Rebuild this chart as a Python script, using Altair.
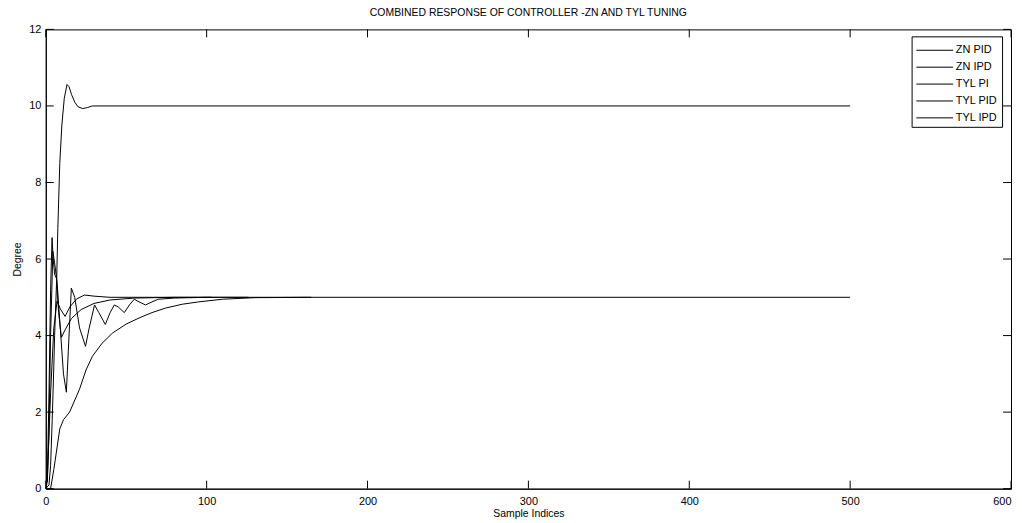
import altair as alt
import pandas as pd

series_names = ["ZN PID", "ZN IPD", "TYL PI", "TYL PID", "TYL IPD"]

zn_pid_x = [0, 2, 3, 4, 5, 5.5, 6.8, 7.5, 8.7, 10, 11.5, 13.2, 14.5, 16, 18, 20, 23, 26, 29, 500]
zn_pid_y = [0, 0.1, 0.6, 1.8, 3.2, 4.0, 5.5, 6.8, 8.5, 9.5, 10.2, 10.56, 10.5, 10.3, 10.1, 9.98, 9.93, 9.96, 10.0, 10.0]

zn_ipd_x = [0, 1, 2, 3, 4.4, 5.5, 7, 9, 11, 12.8, 14, 15.9, 18, 21, 24.7, 27, 30.3, 33, 37, 40, 42.6, 45, 48.8, 52, 55, 58, 62, 66, 70, 80, 100, 165]
zn_ipd_y = [0, 0.2, 1.5, 4.0, 6.2, 5.9, 5.4, 4.2, 3.0, 2.52, 3.6, 5.24, 5.0, 4.2, 3.72, 4.2, 4.8, 4.6, 4.29, 4.6, 4.8, 4.75, 4.6, 4.8, 4.95, 4.88, 4.8, 4.88, 4.95, 4.98, 5.0, 5.0]

tyl_pi_x = [0, 3, 5, 8.7, 11, 14.8, 21, 25, 29, 35, 41.6, 50, 58, 66, 74.5, 85, 95, 110, 130, 160, 500]
tyl_pi_y = [0, 0, 0.5, 1.56, 1.8, 2.0, 2.6, 3.1, 3.46, 3.8, 4.07, 4.3, 4.46, 4.6, 4.72, 4.82, 4.88, 4.95, 4.99, 5.0, 5.0]

tyl_pid_x = [0, 1, 2, 3, 3.9, 4.6, 5.5, 6.6, 8, 9.7, 12, 16, 22, 30, 40, 55, 80, 126]
tyl_pid_y = [0, 0.3, 2.5, 5.2, 6.56, 6.0, 5.6, 5.5, 4.6, 3.95, 4.15, 4.45, 4.68, 4.84, 4.93, 4.98, 5.0, 5.0]

tyl_ipd_x = [0, 1, 3, 5, 7, 9, 12, 15, 19, 24, 30, 40, 103]
tyl_ipd_y = [0, 0.3, 2.5, 4.2, 4.9, 4.7, 4.5, 4.75, 4.95, 5.06, 5.03, 5.0, 5.0]

x_ticks = [0, 100, 200, 300, 400, 500, 600]
y_ticks = [0, 2, 4, 6, 8, 10, 12]

frames = []
for name, xs, ys in [
    ("ZN PID", zn_pid_x, zn_pid_y),
    ("ZN IPD", zn_ipd_x, zn_ipd_y),
    ("TYL PI", tyl_pi_x, tyl_pi_y),
    ("TYL PID", tyl_pid_x, tyl_pid_y),
    ("TYL IPD", tyl_ipd_x, tyl_ipd_y),
]:
    frames.append(pd.DataFrame({"series": name, "x": xs, "y": ys, "i": range(len(xs))}))
df = pd.concat(frames, ignore_index=True)

W, H = 971, 462
FONT = "Liberation Sans"

xscale = alt.Scale(domain=[0, 600], nice=False, zero=False)
yscale = alt.Scale(domain=[0, 12], nice=False, zero=False)

lines = alt.Chart(df).mark_line(strokeWidth=1, clip=True).encode(
    x=alt.X("x:Q", scale=xscale,
            axis=alt.Axis(values=x_ticks, title="Sample Indices", grid=False, ticks=False,
                          labelPadding=7, titlePadding=2, labelFlush=False, domainColor="black",
                          labelAlign=alt.expr("datum.value == 600 ? 'right' : 'center'"))),
    y=alt.Y("y:Q", scale=yscale,
            axis=alt.Axis(values=y_ticks, title="Degree", grid=False, ticks=False,
                          labelPadding=5, titlePadding=6, labelFlush=False, domainColor="black")),
    color=alt.Color("series:N",
                    scale=alt.Scale(domain=series_names, range=["black"] * 5),
                    legend=alt.Legend(title=None, orient="none", legendX=871, legendY=7,
                                      symbolType="M-1,0H3", symbolSize=342, symbolStrokeWidth=1,
                                      labelFontSize=11, labelFont=FONT, labelColor="black",
                                      labelOffset=20.5, rowPadding=2, padding=4,
                                      strokeColor="black", fillColor="white")),
    order="i:Q",
)

xt = pd.DataFrame({"t": x_ticks})
yt = pd.DataFrame({"t": y_ticks})
TL = 8

bottom_ticks = alt.Chart(xt).mark_rule(color="black").encode(
    x=alt.X("t:Q", scale=xscale), y=alt.value(H), y2=alt.value(H - TL))
top_ticks = alt.Chart(xt).mark_rule(color="black").encode(
    x=alt.X("t:Q", scale=xscale), y=alt.value(0), y2=alt.value(TL))
left_ticks = alt.Chart(yt).mark_rule(color="black").encode(
    y=alt.Y("t:Q", scale=yscale), x=alt.value(0), x2=alt.value(TL))
right_ticks = alt.Chart(yt).mark_rule(color="black").encode(
    y=alt.Y("t:Q", scale=yscale), x=alt.value(W), x2=alt.value(W - TL))

chart = alt.layer(lines, bottom_ticks, top_ticks, left_ticks, right_ticks).properties(
    width=W, height=H,
    title=alt.TitleParams("COMBINED RESPONSE OF CONTROLLER -ZN AND TYL TUNING",
                          fontSize=10.5, font=FONT, fontWeight="normal", color="black", offset=5),
    autosize=alt.AutoSizeParams(type="none"),
    padding={"left": 38, "top": 20, "right": 3, "bottom": 30},
).configure_view(stroke="black", strokeWidth=1).configure_axis(
    labelFont=FONT, labelFontSize=11, labelColor="black",
    titleFont=FONT, titleFontSize=10.5, titleColor="black", titleFontWeight="normal",
    domainWidth=1,
)

chart.save("out.html", embed_options={"renderer": "svg", "actions": False})
